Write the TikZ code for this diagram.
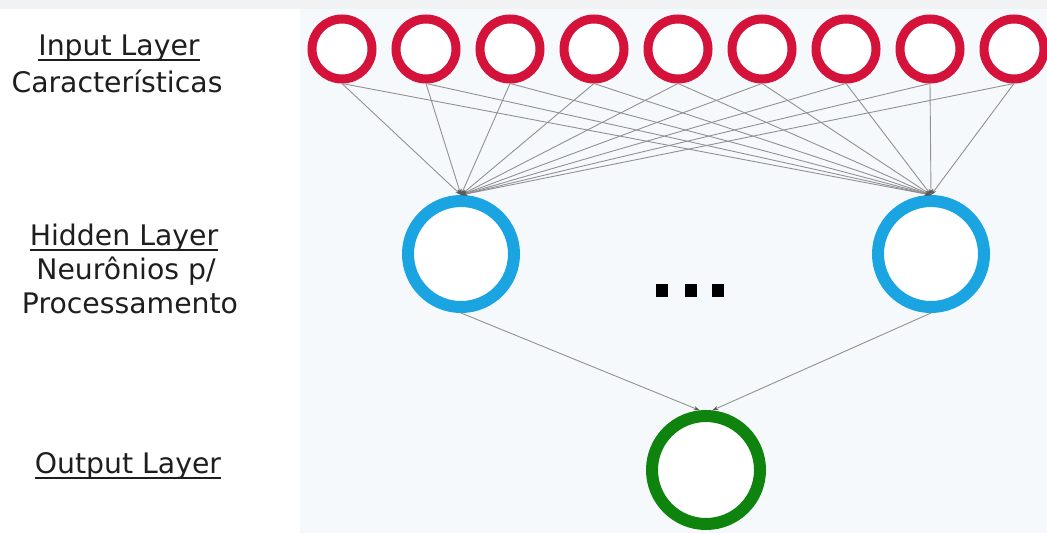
\documentclass[tikz,border=0pt]{standalone}
\usepackage{fontspec}
\setmainfont{DejaVu Sans}
\usetikzlibrary{arrows.meta}
\definecolor{inred}{RGB}{212,18,58}
\definecolor{hidblue}{RGB}{27,164,226}
\definecolor{outgreen}{RGB}{14,132,14}
\definecolor{panelbg}{RGB}{246,249,251}
\definecolor{stripbg}{RGB}{241,242,243}
\definecolor{labeltxt}{RGB}{30,30,30}
\definecolor{conncol}{RGB}{145,145,145}
\tikzset{
  inputnode/.style={circle, draw=inred, line width=9pt, fill=white, minimum size=60pt, inner sep=0pt},
  hidnode/.style={circle, draw=hidblue, line width=12pt, fill=white, minimum size=106pt, inner sep=0pt},
  outnode/.style={circle, draw=outgreen, line width=12pt, fill=white, minimum size=108pt, inner sep=0pt},
  dotsq/.style={rectangle, fill=black, minimum width=12pt, minimum height=13pt, inner sep=0pt},
  conn/.style={draw=conncol, line width=0.9pt, -{Stealth[length=6pt,width=4pt,color=black!65]}},
  lbl/.style={anchor=base, inner sep=0pt, text=labeltxt, font=\fontsize{28.3}{34}\selectfont},
  uline/.style={draw=labeltxt, line width=1.4pt}
}
\begin{document}
\begin{tikzpicture}[x=1pt,y=-1pt]
\useasboundingbox (0,0) rectangle (1047,533);
\fill[white] (0,0) rectangle (1047,533);
\fill[stripbg] (0,0) rectangle (1047,9);
\fill[panelbg] (300,9) rectangle (1047,533);

% input layer
\foreach \i/\x in {1/342,2/426,3/510,4/594,5/678,6/762,7/846,8/930,9/1014}
  \node[inputnode] (in\i) at (\x,49) {};

% hidden layer
\node[hidnode] (h1) at (461,254) {};
\node[hidnode] (h2) at (931,254) {};

% output layer
\node[outnode] (o) at (706,470) {};

% dots
\node[dotsq] (d1) at (662,290) {};
\node[dotsq] (d2) at (691,290) {};
\node[dotsq] (d3) at (718,290) {};

% connections
\foreach \i in {1,...,9} {
  \draw[conn] (in\i.south) -- (h1.north);
  \draw[conn] (in\i.south) -- (h2.north);
}
\draw[conn] (h1.south) -- (o.96);
\draw[conn] (h2.south) -- (o.84);

% labels
\node[lbl] (lin) at (119,55) {Input Layer};
\draw[uline] ([yshift=-5pt]lin.base west) -- ([yshift=-5pt]lin.base east);
\node[lbl] (lcar) at (117,92) {Características};
\node[lbl] (lhid) at (124,245) {Hidden Layer};
\draw[uline] ([yshift=-5pt]lhid.base west) -- ([yshift=-5pt]lhid.base east);
\node[lbl] (lneu) at (126,279) {Neurônios p/};
\node[lbl] (lpro) at (130,313) {Processamento};
\node[lbl] (lout) at (128,473) {Output Layer};
\draw[uline] ([yshift=-5pt]lout.base west) -- ([yshift=-5pt]lout.base east);
\end{tikzpicture}
\end{document}
